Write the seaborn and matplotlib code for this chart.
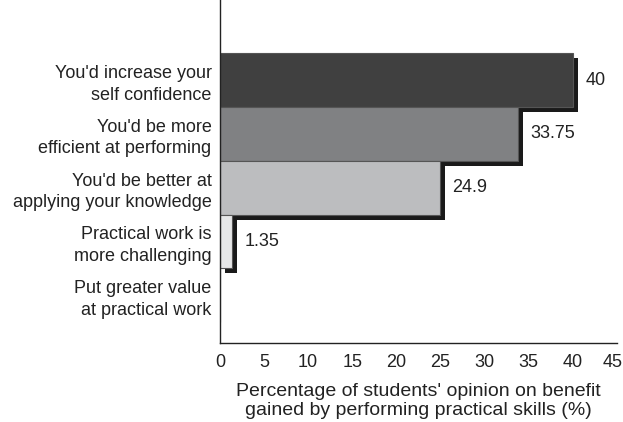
import numpy as np
import pandas as pd
import matplotlib
matplotlib.use('Agg')
import matplotlib.pyplot as plt
import matplotlib.transforms as mtransforms
import seaborn as sns

categories = ["You'd increase your\nself confidence",
              "You'd be more\nefficient at performing",
              "You'd be better at\napplying your knowledge",
              "Practical work is\nmore challenging",
              "Put greater value\nat practical work"]
values = [40, 33.75, 24.9, 1.35, 0]
value_labels = ['40', '33.75', '24.9', '1.35', '']
bar_colors = ['#404040', '#808183', '#bcbdbf', '#e6e7e8', '#ffffff']

df = pd.DataFrame({'benefit': categories, 'pct': values})

sns.set_style('white')
plt.rcParams['font.family'] = ['Liberation Sans', 'DejaVu Sans']

fig = plt.figure(figsize=(6.23, 4.22), dpi=100)
ax = fig.add_axes([0.353, 0.187, 0.637, 0.813])

# shadow bars (drawn first, shifted right/down)
sns.barplot(data=df, x='pct', y='benefit', color='#1a1a1a', width=1.0,
            saturation=1, ax=ax, orient='h')
shift = mtransforms.ScaledTranslation(5 / 100, -5 / 100, fig.dpi_scale_trans)
for p in ax.patches:
    p.set_transform(ax.transData + shift)
    p.set_edgecolor('none')
    p.set_zorder(1)
n_shadow = len(ax.patches)

sns.barplot(data=df, x='pct', y='benefit', hue='benefit', palette=bar_colors,
            width=1.0, saturation=1, ax=ax, orient='h', legend=False,
            edgecolor='#555555', linewidth=0.8)
for p in ax.patches[n_shadow:]:
    p.set_zorder(2)

for i, (v, lab) in enumerate(zip(values, value_labels)):
    ax.annotate(lab, xy=(v, i), xytext=(9, 0), textcoords='offset points',
                va='center', ha='left', fontsize=13, color='#222222')

ax.set_xlim(0, 45)
ax.set_ylim(4.89, -1.49)
ax.set_xticks(np.arange(0, 46, 5))
ax.set_xlabel("Percentage of students' opinion on benefit\ngained by performing practical skills (%)",
              fontsize=14, color='#222222', labelpad=9, linespacing=1.15)
ax.set_ylabel('')
ax.tick_params(axis='x', length=4, width=0.8, labelsize=13, colors='#222222', direction='out')
ax.tick_params(axis='y', length=0, labelsize=13, colors='#222222', pad=6)
for t in ax.get_yticklabels():
    t.set_linespacing(1.35)
# keep the last tick label inside the figure
last = ax.get_xticklabels()[-1]
last.set_transform(last.get_transform() + mtransforms.ScaledTranslation(-4 / 100, 0, fig.dpi_scale_trans))
for side in ['top', 'right']:
    ax.spines[side].set_visible(False)
for side in ['left', 'bottom']:
    ax.spines[side].set_color('#222222')
    ax.spines[side].set_linewidth(1.0)
ax.grid(False)

fig.savefig('out.png', dpi=100)
